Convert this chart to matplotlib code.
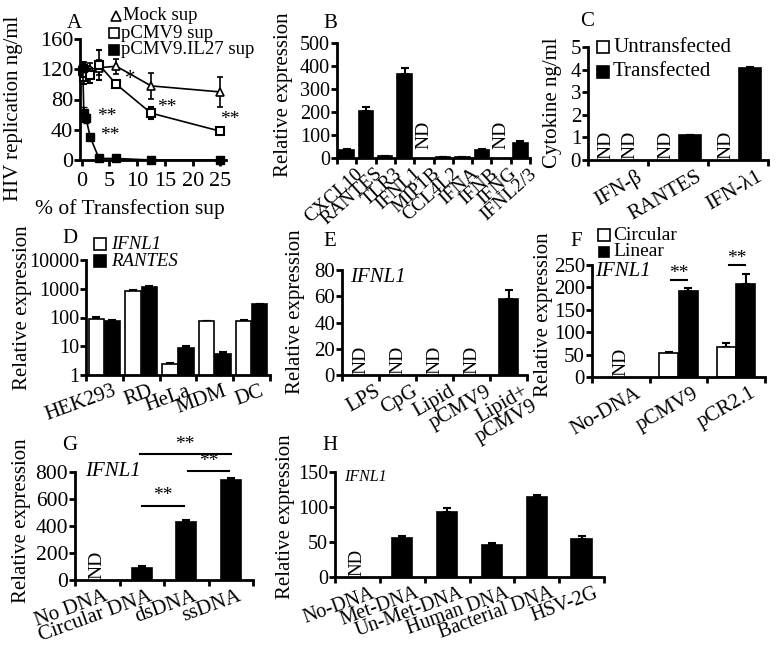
import numpy as np
import matplotlib
matplotlib.use("Agg")
import matplotlib.pyplot as plt
from matplotlib.lines import Line2D
from matplotlib.transforms import ScaledTranslation

plt.rcParams['font.family'] = ['Liberation Serif', 'DejaVu Serif']
plt.rcParams['font.size'] = 14
plt.rcParams['axes.linewidth'] = 2
plt.rcParams['xtick.major.width'] = 2
plt.rcParams['ytick.major.width'] = 2
plt.rcParams['xtick.major.size'] = 4
plt.rcParams['ytick.major.size'] = 4
plt.rcParams['xtick.major.pad'] = 3
plt.rcParams['ytick.major.pad'] = 1

# ---- data ----
# A: HIV replication vs % transfection supernatant
dose = [0.2, 0.39, 0.78, 1.56, 3.125, 6.25, 12.5, 25]
mock = [124, 122, 118, 120, 122, 124, 98, 90]
mock_err = [5, 8, 6, 8, 10, 10, 17, 20]
pcmv = [118, 110, 115, 112, 126, 100, 62, 38]
pcmv_err = [8, 10, 8, 10, 20, 4, 8, 3]
il27 = [122, 62, 55, 30, 2, 2, 0, 0]
il27_err = [6, 8, 6, 4, 1, 1, 0, 0]

# B: gene induction
genes_b = ['CXCL10', 'RANTES', 'TLR3', 'IFNL1', 'MIP1B', 'CCL4L2', 'IFNA', 'IFNB', 'IFNG', 'IFNL2/3']
vals_b = [35, 205, 8, 365, np.nan, 5, 5, 35, np.nan, 65]
err_b = [4, 15, 1, 25, 0, 1, 1, 2, 0, 8]

# C: cytokines
cyto_c = ['IFN-β', 'RANTES', 'IFN-λ1']
untrans_c = [np.nan, np.nan, np.nan]
trans_c = [np.nan, 1.1, 4.05]
trans_err_c = [0, 0, 0.08]

# D: cell lines (log scale)
cells_d = ['HEK293', 'RD', 'HeLa', 'MDM', 'DC']
ifnl1_d = [90, 850, 2.5, 75, 75]
ifnl1_err_d = [12, 60, 0.2, 3, 6]
rantes_d = [75, 1150, 9, 5.5, 290]
rantes_err_d = [4, 100, 1.5, 0.7, 15]

# E: stimuli
stim_e = ['LPS', 'CpG', 'Lipid', 'pCMV9', 'Lipid+\npCMV9']
vals_e = [np.nan, np.nan, np.nan, np.nan, 58]
err_e = [0, 0, 0, 0, 7]

# F: circular vs linear
dna_f = ['No-DNA', 'pCMV9', 'pCR2.1']
circ_f = [np.nan, 53, 67]
circ_err_f = [0, 2, 8]
lin_f = [np.nan, 192, 207]
lin_err_f = [0, 6, 22]

# G
dna_g = ['No DNA', 'Circular DNA', 'dsDNA', 'ssDNA']
vals_g = [np.nan, 90, 430, 740]
err_g = [0, 15, 15, 15]

# H
dna_h = ['No-DNA', 'Met-DNA', 'Un-Met-DNA', 'Human DNA', 'Bacterial DNA', 'HSV-2G']
vals_h = [np.nan, 56, 93, 46, 114, 55]
err_h = [0, 3, 5, 3, 3, 3]

W, H = 779, 645
fig = plt.figure(figsize=(W / 100, H / 100), dpi=100)


def axpx(l, t, r, b):
    ax = fig.add_axes([l / W, 1 - b / H, (r - l) / W, (b - t) / H])
    ax.spines['top'].set_visible(False)
    ax.spines['right'].set_visible(False)
    return ax


def ftext(x, y, s, **kw):
    kw.setdefault('ha', 'left')
    kw.setdefault('va', 'center')
    fig.text(x / W, 1 - y / H, s, **kw)


def fmark(x, y, marker, filled, ms=8):
    fig.add_artist(Line2D([x / W], [1 - y / H], marker=marker, ms=ms,
                          mfc='black' if filled else 'white', mec='black', mew=1.2,
                          transform=fig.transFigure))


def ylab(ax, s, xr, yc, fs=14.5):
    # xr = right edge of the rotated label, yc = its vertical centre (pixels)
    ax.set_ylabel(s, fontsize=fs)
    ax.yaxis.set_label_coords(xr / W, 1 - yc / H, transform=fig.transFigure)


def cat_axis(ax, labels, rot, fs=14.5, dx=10):
    n = len(labels)
    ax.set_xlim(-0.5, n - 0.5)
    ax.set_xticks(np.arange(n + 1) - 0.5)
    ax.set_xticklabels([])
    ax.set_xticks(np.arange(n), minor=True)
    ax.set_xticklabels(labels, minor=True, rotation=rot, ha='right',
                       rotation_mode='anchor', fontsize=fs, linespacing=0.85)
    ax.tick_params(axis='x', which='minor', length=0, pad=5)
    off = ScaledTranslation(dx / 100, 0, fig.dpi_scale_trans)
    for t in ax.get_xticklabels(minor=True):
        t.set_transform(t.get_transform() + off)


def bars(ax, x, v, e, color='black', width=0.45):
    x = np.asarray(x, float)
    v = np.asarray(v, float)
    ax.bar(x, v, width=width, color=color, edgecolor='black', linewidth=1.2, zorder=2)
    ok = ~np.isnan(v)
    ax.errorbar(x[ok], v[ok], yerr=[np.zeros(ok.sum()), np.asarray(e, float)[ok]],
                fmt='none', ecolor='black', elinewidth=1.5, capsize=3, capthick=1.5, zorder=1)


def nd(ax, x, y, fs=13.5):
    ax.text(x, y, 'ND', rotation=90, ha='center', va='bottom', fontsize=fs)


def sig(ax, x0, x1, y, dy, fs=14):
    ax.plot([x0, x1], [y, y], color='black', lw=1.5, clip_on=False)
    ax.text((x0 + x1) / 2, y + dy, '**', ha='center', va='center', fontsize=fs)


# ---- Panel A ----
axA = axpx(80, 39, 226, 160)
axA.errorbar(dose, mock, yerr=mock_err, color='black', lw=1.2, marker='^', ms=6,
             mfc='white', mec='black', mew=1.2, capsize=2.5, clip_on=False, zorder=3)
axA.errorbar(dose, pcmv, yerr=pcmv_err, color='black', lw=1.2, marker='s', ms=6,
             mfc='white', mec='black', mew=1.5, capsize=2.5, clip_on=False, zorder=3)
axA.errorbar(dose, il27, yerr=il27_err, color='black', lw=1.2, marker='s', ms=6,
             mfc='black', mec='black', capsize=2.5, clip_on=False, zorder=4)
axA.set_xlim(-0.3, 26)
axA.set_ylim(0, 160)
axA.set_xticks([0, 5, 10, 15, 20, 25])
axA.set_yticks([0, 40, 80, 120, 160])
axA.tick_params(labelsize=16)
axA.tick_params(axis='x', pad=5)
axA.text(7.8, 106, '*', fontsize=15, va='center')
axA.text(13.6, 70, '**', fontsize=14, va='center')
axA.text(24.9, 53, '**', fontsize=14, va='center')
axA.text(2.8, 57, '**', fontsize=14, va='center')
axA.text(3.3, 33, '**', fontsize=14, va='center')
ylab(axA, 'HIV replication ng/ml', 23, 108, fs=15)
ftext(130, 209, '% of Transfection sup', ha='center', fontsize=15.5)
ftext(74, 24, 'A', ha='center', fontsize=15)
fmark(116, 16, '^', False, ms=7)
ftext(123, 16, 'Mock sup', fontsize=13.5)
fmark(114, 33, 's', False, ms=7)
ftext(121, 33, 'pCMV9 sup', fontsize=13.5)
fmark(114, 50, 's', True, ms=7)
ftext(121, 50, 'pCMV9.IL27 sup', fontsize=13.5)

# ---- Panel B ----
axB = axpx(337, 43, 530, 158)
xb = np.arange(len(genes_b))
bars(axB, xb, vals_b, err_b, width=0.75)
cat_axis(axB, genes_b, 42, fs=14, dx=8)
axB.set_ylim(0, 500)
axB.set_yticks([0, 100, 200, 300, 400, 500])
axB.tick_params(axis='y', labelsize=14.5)
for i, v in enumerate(vals_b):
    if np.isnan(v):
        nd(axB, i, 38, fs=14)
ylab(axB, 'Relative expression', 293, 95, fs=15)
ftext(330, 24, 'B', ha='center', fontsize=15)

# ---- Panel C ----
axC = axpx(588, 47, 768, 160)
xc = np.arange(len(cyto_c))
bars(axC, xc - 0.2, untrans_c, [0, 0, 0], color='white', width=0.38)
bars(axC, xc + 0.2, trans_c, trans_err_c, color='black', width=0.38)
for i in range(len(cyto_c)):
    if np.isnan(untrans_c[i]):
        nd(axC, i - 0.2, 0.05, fs=14)
    if np.isnan(trans_c[i]):
        nd(axC, i + 0.2, 0.05, fs=14)
cat_axis(axC, cyto_c, 30, fs=15, dx=18)
axC.set_ylim(0, 5)
axC.set_yticks([0, 1, 2, 3, 4, 5])
axC.tick_params(axis='y', labelsize=15)
ylab(axC, 'Cytokine ng/ml', 562, 103, fs=15)
ftext(587, 21, 'C', ha='center', fontsize=15)
fmark(603, 47, 's', False, ms=8)
ftext(613, 47, 'Untransfected', fontsize=15)
fmark(603, 72, 's', True, ms=8)
ftext(613, 72, 'Transfected', fontsize=15)

# ---- Panel D ----
axD = axpx(86, 260, 270, 375)
xd = np.arange(len(cells_d))
bars(axD, xd - 0.22, ifnl1_d, ifnl1_err_d, color='white', width=0.42)
bars(axD, xd + 0.22, rantes_d, rantes_err_d, color='black', width=0.42)
axD.set_yscale('log')
axD.set_ylim(1, 10000)
axD.set_yticks([1, 10, 100, 1000, 10000])
axD.set_yticklabels(['1', '10', '100', '1000', '10000'])
axD.minorticks_off()
cat_axis(axD, cells_d, 20, fs=15, dx=8)
axD.tick_params(axis='y', labelsize=14.5)
ylab(axD, 'Relative expression', 32, 308, fs=15)
ftext(70, 238, 'D', ha='center', fontsize=15)
fmark(100, 244, 's', False, ms=8)
ftext(111, 244, 'IFNL1', fontsize=13.5, style='italic')
fmark(100, 261, 's', True, ms=8)
ftext(111, 261, 'RANTES', fontsize=13.5, style='italic')

# ---- Panel E ----
axE = axpx(342, 270, 527, 375)
xe = np.arange(len(stim_e))
bars(axE, xe, vals_e, err_e, width=0.5)
for i, v in enumerate(vals_e):
    if np.isnan(v):
        nd(axE, i, 1, fs=14)
cat_axis(axE, stim_e, 30, fs=15, dx=14)
axE.set_ylim(0, 80)
axE.set_yticks([0, 20, 40, 60, 80])
axE.tick_params(axis='y', labelsize=15)
axE.text(-0.28, 74, 'IFNL1', style='italic', fontsize=15, va='center')
ylab(axE, 'Relative expression', 305, 312, fs=15)
ftext(330, 242, 'E', ha='center', fontsize=15)

# ---- Panel F ----
axF = axpx(592, 265, 765, 377)
xf = np.arange(len(dna_f))
bars(axF, xf - 0.17, circ_f, circ_err_f, color='white', width=0.33)
bars(axF, xf + 0.17, lin_f, lin_err_f, color='black', width=0.33)
nd(axF, 0, 3, fs=14)
cat_axis(axF, dna_f, 30, fs=15, dx=14)
axF.set_ylim(0, 250)
axF.set_yticks([0, 50, 100, 150, 200, 250])
axF.tick_params(axis='y', labelsize=15)
axF.text(-0.45, 235, 'IFNL1', style='italic', fontsize=15, va='center')
sig(axF, 0.87, 1.15, 216, 14)
sig(axF, 1.87, 2.15, 250, 14)
ylab(axF, 'Relative expression', 553, 315, fs=15)
ftext(576, 242, 'F', ha='center', fontsize=15)
fmark(604, 235, 's', False, ms=8)
ftext(613, 235, 'Circular', fontsize=14)
fmark(604, 252, 's', True, ms=7)
ftext(613, 252, 'Linear', fontsize=14)

# ---- Panel G ----
axG = axpx(75, 472, 253, 580)
xg = np.arange(len(dna_g))
bars(axG, xg, vals_g, err_g, width=0.45)
nd(axG, 0, 10, fs=14)
cat_axis(axG, dna_g, 20, fs=15, dx=6)
axG.set_ylim(0, 800)
axG.set_yticks([0, 200, 400, 600, 800])
axG.tick_params(axis='y', labelsize=15.5)
axG.text(-0.28, 800, 'IFNL1', style='italic', fontsize=15, va='center')
sig(axG, 1.0, 1.95, 548, 80)
sig(axG, 2.05, 2.95, 807, 70)
sig(axG, 0.95, 3.0, 933, 70)
ylab(axG, 'Relative expression', 31, 521, fs=15)
ftext(70, 445, 'G', ha='center', fontsize=15)

# ---- Panel H ----
axH = axpx(335, 472, 604, 577)
xh = np.arange(len(dna_h))
bars(axH, xh, vals_h, err_h, width=0.45)
nd(axH, 0, 2, fs=13.5)
cat_axis(axH, dna_h, 20, fs=14.5, dx=13)
axH.set_ylim(0, 150)
axH.set_yticks([0, 50, 100, 150])
axH.tick_params(axis='y', labelsize=14.5)
axH.text(-0.3, 143, 'IFNL1', style='italic', fontsize=11.5, va='center')
ylab(axH, 'Relative expression', 295, 517, fs=15)
ftext(330, 445, 'H', ha='center', fontsize=15)

fig.savefig('out.png', dpi=100)
